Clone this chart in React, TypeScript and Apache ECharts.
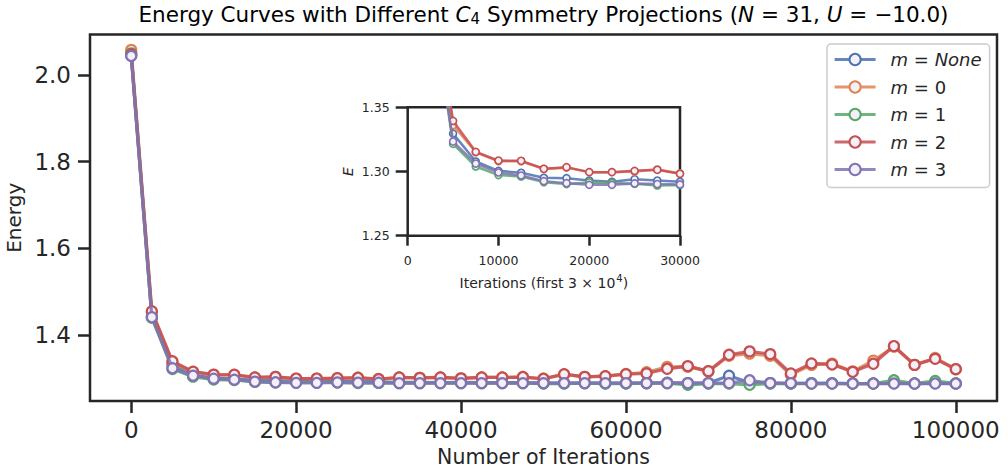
import React, { useEffect, useRef } from 'react';
import * as echarts from 'echarts';

const iterations = [
  0, 2500, 5000, 7500, 10000, 12500, 15000, 17500, 20000, 22500,
  25000, 27500, 30000, 32500, 35000, 37500, 40000, 42500, 45000, 47500,
  50000, 52500, 55000, 57500, 60000, 62500, 65000, 67500, 70000, 72500,
  75000, 77500, 80000, 82500, 85000, 87500, 90000, 92500, 95000, 97500,
  100000,
];

const seriesNames = ['m = None', 'm = 0', 'm = 1', 'm = 2', 'm = 3'];
const colors = ['#4c72b0', '#dd8452', '#55a868', '#c44e52', '#8172b3'];

const energyNone = [
  2.045, 1.442, 1.3295, 1.3078, 1.3005, 1.299, 1.2951, 1.2948, 1.293, 1.292,
  1.294, 1.293, 1.292, 1.291, 1.291, 1.29, 1.291, 1.29, 1.29, 1.29,
  1.289, 1.289, 1.289, 1.289, 1.289, 1.289, 1.29, 1.289, 1.289, 1.306,
  1.29, 1.289, 1.288, 1.289, 1.289, 1.288, 1.288, 1.289, 1.288, 1.289,
  1.288,
];
const energyM0 = [
  2.058, 1.452, 1.336, 1.315, 1.308, 1.308, 1.302, 1.303, 1.2995, 1.2995,
  1.3, 1.3015, 1.2985, 1.302, 1.301, 1.302, 1.3, 1.302, 1.302, 1.303,
  1.299, 1.309, 1.3034, 1.305, 1.31, 1.314, 1.3265, 1.327, 1.316, 1.352,
  1.357, 1.352, 1.308, 1.331, 1.334, 1.316, 1.341, 1.373, 1.331, 1.347,
  1.321,
];
const energyM1 = [
  2.05, 1.44, 1.3215, 1.3039, 1.2972, 1.2961, 1.2917, 1.2902, 1.2915, 1.291,
  1.2904, 1.2891, 1.2894, 1.289, 1.289, 1.289, 1.289, 1.289, 1.289, 1.289,
  1.288, 1.288, 1.289, 1.288, 1.288, 1.289, 1.289, 1.285, 1.288, 1.288,
  1.285, 1.288, 1.288, 1.288, 1.288, 1.288, 1.288, 1.2955, 1.288, 1.294,
  1.288,
];
const energyM2 = [
  2.048, 1.455, 1.3394, 1.3153, 1.3085, 1.3083, 1.3021, 1.3034, 1.2995, 1.2995,
  1.3005, 1.3013, 1.2982, 1.302, 1.301, 1.302, 1.3, 1.302, 1.302, 1.303,
  1.299, 1.3096, 1.3034, 1.305, 1.3096, 1.3112, 1.322, 1.3282, 1.3166, 1.3544,
  1.3622, 1.356, 1.3112, 1.3344, 1.332, 1.315, 1.3336, 1.3745, 1.331, 1.345,
  1.3212,
];
const energyM3 = [
  2.044, 1.441, 1.3233, 1.3062, 1.2992, 1.2969, 1.2925, 1.2909, 1.2896, 1.2896,
  1.2907, 1.2902, 1.2899, 1.289, 1.289, 1.289, 1.289, 1.289, 1.289, 1.289,
  1.289, 1.289, 1.289, 1.289, 1.289, 1.289, 1.289, 1.289, 1.289, 1.289,
  1.2955, 1.289, 1.289, 1.288, 1.288, 1.288, 1.288, 1.288, 1.288, 1.288,
  1.288,
];
const allEnergies = [energyNone, energyM0, energyM1, energyM2, energyM3];

const mainXTicks = [0, 20000, 40000, 60000, 80000, 100000];
const mainYTicks = [1.4, 1.6, 1.8, 2.0];
const insetXTicks = [0, 10000, 20000, 30000];
const insetYTicks = [1.25, 1.3, 1.35];

const FONT = 'DejaVu Sans';
const INK = '#262626';

export default function App() {
  const ref = useRef<HTMLDivElement>(null);

  useEffect(() => {
    if (!ref.current) return;
    const chart = echarts.init(ref.current, undefined, { renderer: 'svg' });

    const mainSeries = allEnergies.map((vals, i) => ({
      type: 'line',
      name: seriesNames[i],
      xAxisIndex: 0,
      yAxisIndex: 0,
      data: iterations.map((x, j) => [x, vals[j]]),
      symbol: 'circle',
      symbolSize: 10,
      showSymbol: true,
      lineStyle: { color: colors[i], width: 3.2, opacity: 0.85 },
      itemStyle: { color: '#f4f0f5', borderColor: colors[i], borderWidth: 2.2 },
      z: 2 + i,
    }));
    const insetSeries = allEnergies.map((vals, i) => ({
      type: 'line',
      name: seriesNames[i],
      xAxisIndex: 1,
      yAxisIndex: 1,
      data: iterations.map((x, j) => [x, vals[j]]),
      symbol: 'circle',
      symbolSize: 7,
      showSymbol: true,
      clip: true,
      lineStyle: { color: colors[i], width: 2.5, opacity: 0.85 },
      itemStyle: { color: '#f4f0f5', borderColor: colors[i], borderWidth: 1.6 },
      z: 20 + i,
    }));

    const baseText = { fontFamily: FONT, color: INK };

    chart.setOption({
      animation: false,
      backgroundColor: '#ffffff',
      textStyle: { fontFamily: FONT },
      graphic: [
        {
          type: 'text',
          x: 543.5,
          y: 14,
          z: 100,
          style: {
            text:
              '{a|Energy Curves with Different }{i|C}{s|4}{a| Symmetry Projections (}{i|N}{a| = 31, }{i|U}{a| = −10.0)}',
            align: 'center',
            verticalAlign: 'middle',
            rich: {
              a: { fontFamily: FONT, fontSize: 21.5, color: INK },
              i: { fontFamily: FONT, fontSize: 21.5, fontStyle: 'italic', color: INK },
              s: { fontFamily: FONT, fontSize: 15, color: INK, padding: [10, 0, 0, 0] },
            },
          },
        },
      ],
      legend: {
        data: seriesNames,
        orient: 'vertical',
        left: 827,
        top: 44,
        padding: [6.5, 8, 9, 6],
        itemGap: 9.5,
        itemWidth: 41,
        itemHeight: 14,
        backgroundColor: 'rgba(255,255,255,0.85)',
        borderColor: '#cccccc',
        borderWidth: 1.5,
        borderRadius: 4,
        z: 50,
        lineStyle: { width: 3.2 },
        formatter: (name: string) => {
          const v = name.replace('m = ', '');
          return v === 'None' ? '{i|m}{t| = }{i|None}' : '{i|m}{t| = ' + v + '}';
        },
        textStyle: {
          fontFamily: FONT,
          fontSize: 18,
          color: INK,
          padding: [0, 0, 0, 10],
          rich: {
            i: { fontFamily: FONT, fontSize: 18, fontStyle: 'italic', color: INK },
            t: { fontFamily: FONT, fontSize: 18, color: INK },
          },
        },
      },
      grid: [
        {
          left: 90,
          top: 34.5,
          width: 907,
          height: 366.5,
          show: true,
          borderColor: INK,
          borderWidth: 2.5,
          backgroundColor: 'transparent',
          containLabel: false,
          outerBoundsMode: 'none',
        },
        {
          left: 407.7,
          top: 107.3,
          width: 272.3,
          height: 128.4,
          show: true,
          borderColor: INK,
          borderWidth: 2.5,
          backgroundColor: '#ffffff',
          containLabel: false,
          outerBoundsMode: 'none',
          z: 10,
        },
      ],
      xAxis: [
        {
          type: 'value',
          gridIndex: 0,
          min: -5000,
          max: 105000,
          axisLine: { show: false, onZero: false },
          splitLine: { show: false },
          axisTick: {
            show: true,
            inside: false,
            customValues: mainXTicks,
            length: 12,
            lineStyle: { color: INK, width: 2.5 },
          },
          axisLabel: {
            customValues: mainXTicks,
            formatter: (v: number) => String(v),
            fontSize: 23,
            margin: 17,
            ...baseText,
          },
          name: 'Number of Iterations',
          nameLocation: 'middle',
          nameGap: 45,
          nameTextStyle: { fontSize: 20.5, ...baseText },
        },
        {
          type: 'value',
          gridIndex: 1,
          min: 0,
          max: 30000,
          interval: 10000,
          axisLine: { show: false, onZero: false },
          splitLine: { show: false },
          axisTick: {
            show: true,
            inside: false,
            customValues: insetXTicks,
            length: 10,
            lineStyle: { color: INK, width: 2.5 },
          },
          axisLabel: {
            customValues: insetXTicks,
            formatter: (v: number) => String(v),
            fontSize: 12.5,
            margin: 18,
            showMinLabel: true,
            showMaxLabel: true,
            ...baseText,
          },
          name: '{a|Iterations (first 3 × 10}{s|4}{a|)}',
          nameLocation: 'middle',
          nameGap: 38,
          nameTextStyle: {
            fontSize: 14,
            ...baseText,
            rich: {
              a: { fontFamily: FONT, fontSize: 14, color: INK },
              s: { fontFamily: FONT, fontSize: 10, color: INK, padding: [0, 0, 8, 1] },
            },
          },
        },
      ],
      yAxis: [
        {
          type: 'value',
          gridIndex: 0,
          min: 1.2477,
          max: 2.0935,
          axisLine: { show: false, onZero: false },
          splitLine: { show: false },
          axisTick: {
            show: true,
            inside: false,
            customValues: mainYTicks,
            length: 12,
            lineStyle: { color: INK, width: 2.5 },
          },
          axisLabel: {
            customValues: mainYTicks,
            formatter: (v: number) => v.toFixed(1),
            fontSize: 23,
            margin: 19,
            ...baseText,
          },
          name: 'Energy',
          nameLocation: 'middle',
          nameGap: 63,
          nameTextStyle: { fontSize: 20, ...baseText },
        },
        {
          type: 'value',
          gridIndex: 1,
          min: 1.25,
          max: 1.35,
          axisLine: { show: false, onZero: false },
          splitLine: { show: false },
          axisTick: {
            show: true,
            inside: false,
            customValues: insetYTicks,
            length: 12,
            lineStyle: { color: INK, width: 2.5 },
          },
          axisLabel: {
            customValues: insetYTicks,
            formatter: (v: number) => v.toFixed(2),
            fontSize: 12.5,
            margin: 18,
            ...baseText,
          },
          name: 'E',
          nameLocation: 'middle',
          nameGap: 53,
          nameTextStyle: { fontSize: 14, fontStyle: 'italic', ...baseText },
        },
      ],
      series: [...mainSeries, ...insetSeries],
    });

    return () => chart.dispose();
  }, []);

  return <div ref={ref} style={{ width: 1008, height: 475, position: 'absolute', left: 0, top: 0 }} />;
}
